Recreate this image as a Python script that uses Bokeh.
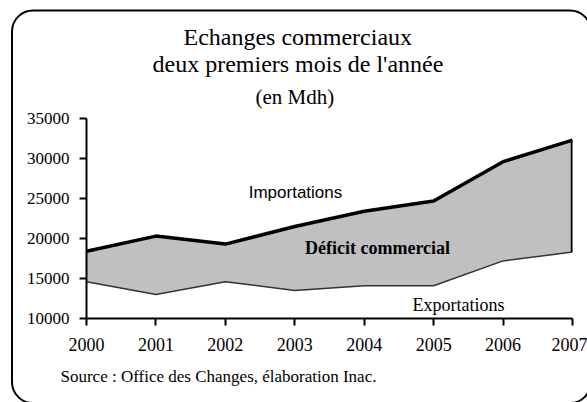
from urllib.parse import quote
from bokeh.plotting import figure
from bokeh.models import Label, FixedTicker, Range1d, Title
from bokeh.embed import file_html
from bokeh.resources import INLINE

years = [2000, 2001, 2002, 2003, 2004, 2005, 2006, 2007]
imports = [18400, 20300, 19300, 21500, 23400, 24700, 29600, 32300]
exports = [14600, 13000, 14600, 13500, 14100, 14100, 17200, 18300]
y_ticks = [10000, 15000, 20000, 25000, 30000, 35000]

title_lines = ["Echanges commerciaux", "deux premiers mois de l'année", "(en Mdh)"]
source_text = "Source : Office des Changes, élaboration Inac."

SERIF = "Liberation Serif"
SANS = "Liberation Sans"
W, H = 587, 402

p = figure(width=W, height=H, output_backend="svg", toolbar_location=None, title_location=None,
           x_range=Range1d(years[0], years[-1]), y_range=Range1d(y_ticks[0], y_ticks[-1]),
           min_border_left=86, min_border_right=15, min_border_top=118, min_border_bottom=84)
p.outline_line_color = None
p.grid.visible = False
p.background_fill_color = "white"
p.border_fill_color = None

# rounded frame around the whole chart (decoration drawn as the figure's CSS background)
frame_svg = ('<svg xmlns="http://www.w3.org/2000/svg" width="%d" height="%d" viewBox="0 0 %d %d">'
             '<rect x="12" y="10.5" width="579" height="392.5" rx="21" ry="21" '
             'fill="none" stroke="black" stroke-width="2"/></svg>') % (W, H, W, H)
p.styles = {"background-color": "white",
            "background-image": 'url("data:image/svg+xml;charset=utf-8,%s")' % quote(frame_svg),
            "background-repeat": "no-repeat",
            "background-size": "%dpx %dpx" % (W, H),
            "background-position": "0 0"}

p.varea(x=years, y1=exports, y2=imports, fill_color="#c0c0c0")
p.line(years, exports, line_color="#333333", line_width=1.5)
p.line(years, imports, line_color="black", line_width=3.5)
p.segment(x0=[years[-1]], y0=[exports[-1]], x1=[years[-1]], y1=[imports[-1]],
          line_color="black", line_width=3.5)

for ax in (p.xaxis[0], p.yaxis[0]):
    ax.axis_line_color = "black"
    ax.axis_line_width = 2
    ax.major_tick_line_color = "black"
    ax.major_tick_line_width = 2
    ax.major_tick_in = 0
    ax.major_tick_out = 7
    ax.minor_tick_line_color = None
    ax.major_label_text_font = SERIF
    ax.major_label_text_color = "black"

p.xaxis.ticker = FixedTicker(ticks=years)
p.xaxis.major_label_text_font_size = "18px"
p.xaxis.major_label_standoff = 12
p.yaxis.ticker = FixedTicker(ticks=y_ticks)
p.yaxis.major_label_text_font_size = "17px"
p.yaxis.major_label_standoff = 10

# titles above the frame (first added is nearest the frame)
p.add_layout(Title(text=title_lines[2], text_font=SERIF, text_font_size="21px", text_font_style="normal",
                   align="left", offset=169, standoff=20, text_color="black"), "above")
p.add_layout(Title(text=title_lines[1], text_font=SERIF, text_font_size="24px", text_font_style="normal",
                   align="left", offset=66, standoff=-9, text_color="black"), "above")
p.add_layout(Title(text=title_lines[0], text_font=SERIF, text_font_size="24px", text_font_style="normal",
                   align="left", offset=97, standoff=7, text_color="black"), "above")
p.add_layout(Title(text=source_text, text_font=SERIF, text_font_size="17px", text_font_style="normal",
                   align="left", offset=-26, standoff=22, text_color="black"), "below")

def lab(text, x, y, size, font=SERIF, style="normal", align="center"):
    p.add_layout(Label(x=x, y=y, x_units="screen", y_units="screen", text=text,
                       text_font=font, text_font_size=size, text_font_style=style,
                       text_align=align, text_baseline="alphabetic", text_color="black"))

# frame-relative screen coordinates
lab("Importations", 209, 126, "17px", font=SANS)
lab("Déficit commercial", 291, 71, "18px", style="bold")
lab("Exportations", 372, 14, "18px")

open("out.html", "w").write(file_html(p, INLINE))
